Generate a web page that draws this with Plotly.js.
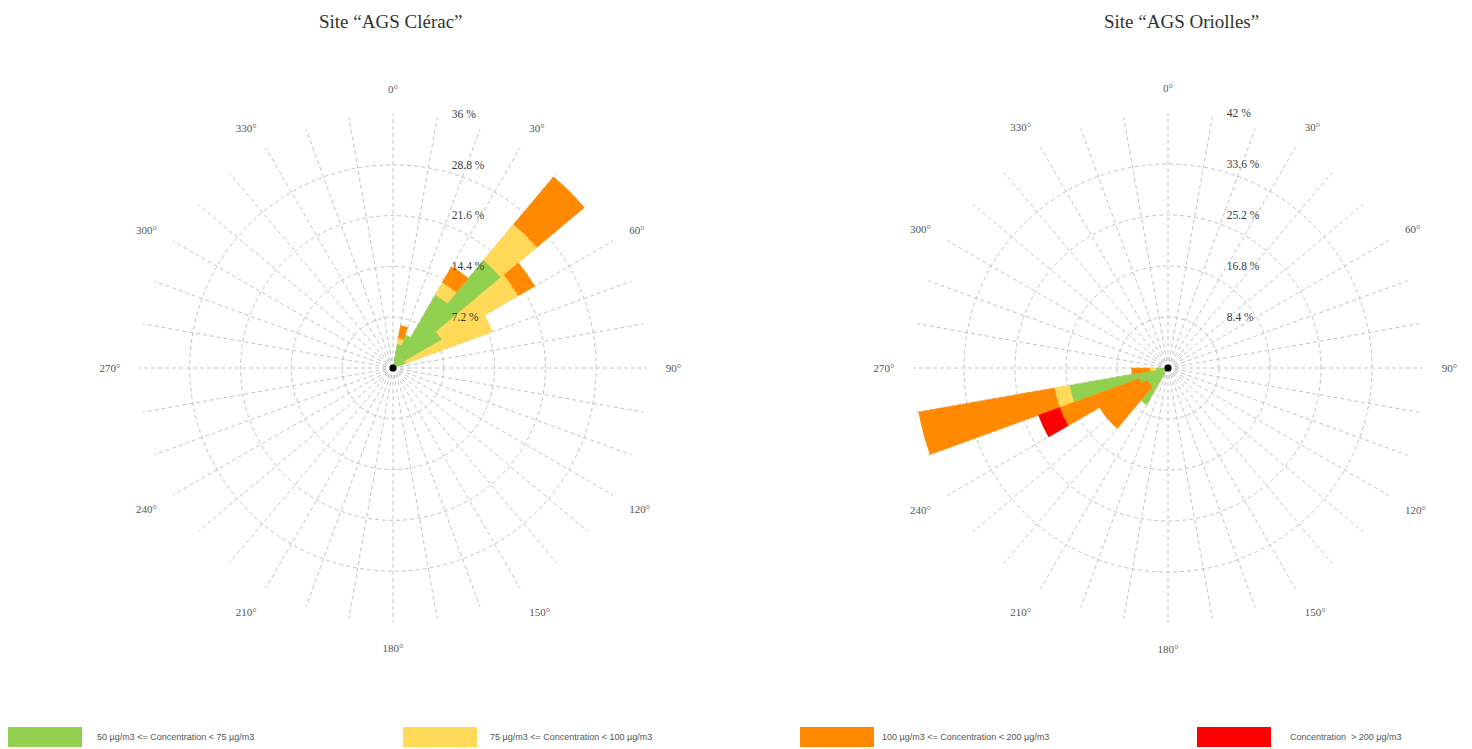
<!DOCTYPE html>
<html>
<head>
<meta charset="utf-8">
<script src="https://cdn.plot.ly/plotly-3.0.1.min.js"></script>
<style>html,body{margin:0;padding:0;background:#fff;}#chart{width:1472px;height:749px;}</style>
</head>
<body>
<div id="chart"></div>
<script>
// ---- data ----
const classNames = [
  "50 µg/m3 <= Concentration < 75 µg/m3",
  "75 µg/m3 <= Concentration < 100 µg/m3",
  "100 µg/m3 <= Concentration < 200 µg/m3",
  "Concentration  > 200 µg/m3"
];
const classColors = ["#92D050", "#FFD957", "#FF8A00", "#FF0000"];

const siteTitles = ["Site \u201cAGS Cl\u00e9rac\u201d", "Site \u201cAGS Oriolles\u201d"];

const cleracTheta  = [15, 25, 35, 45, 55, 65];
const cleracGreen  = [3.5, 5.0, 12.0, 20.0, 8.0, 2.0];
const cleracYellow = [0.8, 0.0, 2.0, 6.6, 12.5, 13.0];
const cleracOrange = [1.8, 0.0, 2.6, 8.8, 2.7, 0.0];
const cleracRed    = [0, 0, 0, 0, 0, 0];

const oriollesTheta  = [215, 225, 235, 245, 255, 265];
const oriollesGreen  = [7.0, 4.0, 4.0, 5.0, 16.5, 2.0];
const oriollesYellow = [0.0, 0.0, 0.0, 0.0, 2.5, 1.0];
const oriollesOrange = [0.0, 9.0, 9.0, 14.0, 22.7, 3.0];
const oriollesRed    = [0.0, 0.0, 0.0, 3.7, 0.0, 0.0];

const cleracRadialTicks = [7.2, 14.4, 21.6, 28.8, 36];
const oriollesRadialTicks = [8.4, 16.8, 25.2, 33.6, 42];
const angleTicks = [];
for (let a = 0; a < 360; a += 10) angleTicks.push(a);
const angleLabels = angleTicks.map(a => (a % 30 === 0 ? a + "\u00b0" : ""));

// ---- traces ----
const W = 1472, H = 749;
const traces = [];
function addSite(theta, series, polarId) {
  series.forEach((vals, i) => {
    traces.push({
      type: "barpolar",
      subplot: polarId,
      r: vals,
      theta: theta,
      width: theta.map(() => 10),
      name: classNames[i],
      marker: {color: classColors[i], line: {color: classColors[i], width: 0.5}},
      showlegend: false,
      hoverinfo: "r+theta"
    });
  });
  traces.push({
    type: "scatterpolar", subplot: polarId, r: [0], theta: [0], mode: "markers",
    marker: {color: "#000", size: 7}, showlegend: false, hoverinfo: "skip"
  });
}
addSite(cleracTheta, [cleracGreen, cleracYellow, cleracOrange, cleracRed], "polar");
addSite(oriollesTheta, [oriollesGreen, oriollesYellow, oriollesOrange, oriollesRed], "polar2");

function polarLayout(cx, cy, R, ticks, xmax) {
  return {
    domain: {x: [(cx - R) / W, (cx + R) / W], y: [1 - (cy + R) / H, 1 - (cy - R) / H]},
    bgcolor: "rgba(0,0,0,0)",
    barmode: "stack",
    bargap: 0,
    angularaxis: {
      rotation: 90, direction: "clockwise",
      tickmode: "array", tickvals: angleTicks, ticktext: angleLabels,
      showline: false, ticks: "outside", ticklen: 16, tickcolor: "rgba(0,0,0,0)",
      gridcolor: "#c4c4c4", gridwidth: 1, griddash: "4px,3px",
      tickfont: {family: "Liberation Serif", size: 11, color: "#555"}
    },
    radialaxis: {
      range: [0, xmax], angle: 90, side: "clockwise",
      tickmode: "array", tickvals: ticks, ticktext: ticks.map(t => t + " %"),
      showline: false, ticks: "outside", ticklen: 56, tickcolor: "rgba(0,0,0,0)",
      gridcolor: "#c4c4c4", gridwidth: 1, griddash: "4px,3px",
      tickfont: {family: "Liberation Serif", size: 11.5, color: "#3a3a3a"},
      tickangle: 90
    }
  };
}

const shapes = [], annotations = [];
const legendX = [8, 403, 800, 1197];
const legendTextX = [95, 488, 880, 1288];
classNames.forEach((n, i) => {
  shapes.push({type: "rect", xref: "paper", yref: "paper",
    x0: legendX[i] / W, x1: (legendX[i] + 74) / W, y0: 1 - 747 / H, y1: 1 - 727 / H,
    fillcolor: classColors[i], line: {width: 0}});
  annotations.push({xref: "paper", yref: "paper", x: legendTextX[i] / W, y: 1 - 737 / H,
    xanchor: "left", yanchor: "middle", showarrow: false, text: n,
    font: {family: "Liberation Sans", size: 9, color: "#555"}});
});
const titleX = [391, 1181];
siteTitles.forEach((t, i) => {
  annotations.push({xref: "paper", yref: "paper", x: titleX[i] / W, y: 1 - 21 / H,
    xanchor: "center", yanchor: "middle", showarrow: false, text: t,
    font: {family: "Liberation Serif", size: 19, color: "#333"}});
});

const layout = {
  width: W, height: H,
  margin: {l: 0, r: 0, t: 0, b: 0},
  paper_bgcolor: "#fff",
  showlegend: false,
  polar: polarLayout(393, 368, 254, cleracRadialTicks, 36),
  polar2: polarLayout(1168, 368, 255, oriollesRadialTicks, 42),
  shapes: shapes,
  annotations: annotations
};

Plotly.newPlot("chart", traces, layout, {displayModeBar: false, staticPlot: true});
</script>
</body>
</html>
